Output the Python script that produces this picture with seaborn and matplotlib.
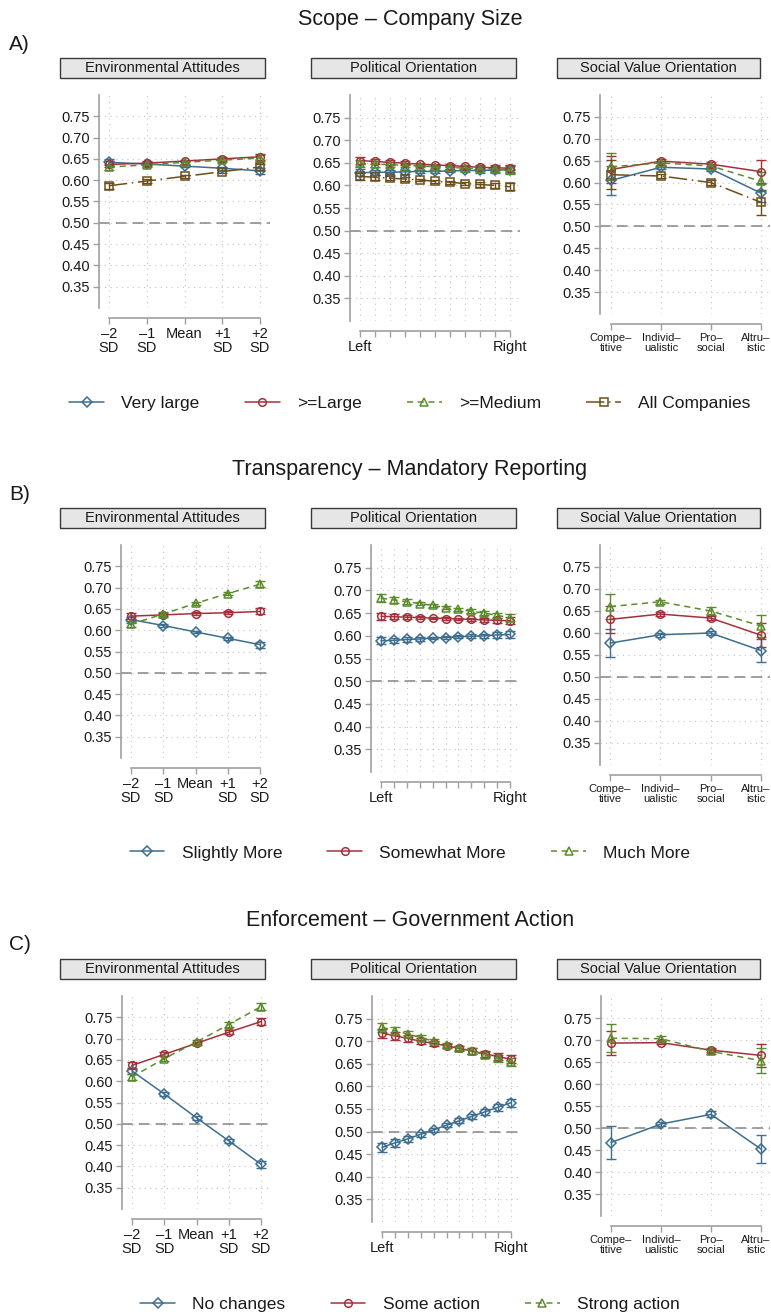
import numpy as np
import pandas as pd
import matplotlib
matplotlib.use("Agg")
import matplotlib.pyplot as plt
import matplotlib.transforms as mtransforms
import seaborn as sns
from matplotlib.lines import Line2D
from matplotlib.patches import Rectangle

sns.set_theme(style="white")
plt.rcParams['font.family'] = ['Liberation Sans', 'DejaVu Sans']

# ---------------- data ----------------
env_labels = ["–2\nSD", "–1\nSD", "Mean", "+1\nSD", "+2\nSD"]
pol_labels = ["Left", "", "", "", "", "", "", "", "", "", "Right"]
svo_labels = ["Compe–\ntitive", "Individ–\nualistic", "Pro–\nsocial", "Altru–\nistic"]
facet_titles = ["Environmental Attitudes", "Political Orientation", "Social Value Orientation"]

row_titles = ["Scope – Company Size", "Transparency – Mandatory Reporting", "Enforcement – Government Action"]
row_letters = ["A)", "B)", "C)"]

a_names = ["Very large", ">=Large", ">=Medium", "All Companies"]
b_names = ["Slightly More", "Somewhat More", "Much More"]
c_names = ["No changes", "Some action", "Strong action"]

env_err = [0.007, 0.004, 0.003, 0.004, 0.007]
pol_err = [0.008, 0.006, 0.005, 0.004, 0.003, 0.003, 0.003, 0.004, 0.005, 0.006, 0.008]

# A) Scope
a_env = [[0.642, 0.638, 0.633, 0.628, 0.622],
         [0.637, 0.640, 0.645, 0.650, 0.655],
         [0.631, 0.636, 0.642, 0.647, 0.652],
         [0.587, 0.598, 0.609, 0.620, 0.631]]
a_pol = [[0.628, 0.629, 0.629, 0.630, 0.631, 0.631, 0.632, 0.633, 0.633, 0.634, 0.635],
         [0.655, 0.653, 0.651, 0.649, 0.647, 0.645, 0.644, 0.642, 0.640, 0.639, 0.638],
         [0.649, 0.647, 0.646, 0.644, 0.643, 0.641, 0.640, 0.638, 0.637, 0.636, 0.634],
         [0.620, 0.618, 0.616, 0.614, 0.612, 0.609, 0.607, 0.604, 0.602, 0.600, 0.597]]
a_svo = [[0.605, 0.635, 0.631, 0.576],
         [0.630, 0.649, 0.642, 0.625],
         [0.636, 0.645, 0.638, 0.603],
         [0.618, 0.615, 0.600, 0.555]]
a_svo_err = [[0.033, 0.005, 0.005, 0.020],
             [0.030, 0.004, 0.004, 0.027],
             [0.031, 0.004, 0.004, 0.022],
             [0.033, 0.004, 0.005, 0.028]]

# B) Transparency
b_env = [[0.625, 0.611, 0.596, 0.581, 0.566],
         [0.633, 0.636, 0.639, 0.641, 0.644],
         [0.614, 0.638, 0.663, 0.686, 0.708]]
b_pol = [[0.589, 0.590, 0.592, 0.593, 0.595, 0.596, 0.598, 0.599, 0.600, 0.602, 0.603],
         [0.643, 0.642, 0.641, 0.640, 0.639, 0.638, 0.637, 0.636, 0.635, 0.634, 0.633],
         [0.683, 0.679, 0.675, 0.671, 0.667, 0.662, 0.658, 0.654, 0.650, 0.645, 0.640]]
b_svo = [[0.577, 0.596, 0.600, 0.560],
         [0.631, 0.643, 0.634, 0.595],
         [0.660, 0.671, 0.650, 0.616]]
b_svo_err = [[0.032, 0.005, 0.005, 0.027],
             [0.030, 0.004, 0.005, 0.027],
             [0.028, 0.005, 0.008, 0.025]]

# C) Enforcement
c_env = [[0.624, 0.570, 0.514, 0.460, 0.405],
         [0.637, 0.663, 0.689, 0.715, 0.740],
         [0.610, 0.653, 0.692, 0.733, 0.775]]
c_env_err = [0.008, 0.005, 0.004, 0.005, 0.008]
c_pol = [[0.465, 0.475, 0.484, 0.494, 0.504, 0.514, 0.524, 0.534, 0.544, 0.554, 0.564],
         [0.718, 0.712, 0.706, 0.700, 0.695, 0.690, 0.684, 0.678, 0.672, 0.666, 0.660],
         [0.731, 0.723, 0.716, 0.708, 0.700, 0.692, 0.685, 0.678, 0.670, 0.662, 0.654]]
c_pol_err = [0.010, 0.009, 0.007, 0.006, 0.005, 0.004, 0.005, 0.006, 0.007, 0.008, 0.009]
c_svo = [[0.467, 0.509, 0.531, 0.452],
         [0.693, 0.694, 0.677, 0.665],
         [0.704, 0.703, 0.674, 0.653]]
c_svo_err = [[0.037, 0.005, 0.007, 0.031],
             [0.028, 0.004, 0.005, 0.026],
             [0.032, 0.005, 0.006, 0.028]]

y_ticks = [0.35, 0.40, 0.45, 0.50, 0.55, 0.60, 0.65, 0.70, 0.75]

# ---------------- style ----------------
COLORS = ["#3d6e8f", "#a3313c", "#5b8c2c", "#6b4f1a"]
MARKERS = ["D", "o", "^", "s"]
MSIZES = [5.5, 5.5, 6.0, 5.5]
LSTYLES = ["-", "-", (0, (4, 3)), (0, (12, 3, 1, 3))]

W, H = 771, 1316
fig = plt.figure(figsize=(W / 100, H / 100), dpi=100)

row_off = [0, 450, 901]
# spine_x, first point, last point, right edge, top, bottom (px, relative to row)
geoms = [
    [(99, 109, 260, 270, 95, 308), (350, 360, 510, 520, 95, 321), (600, 611, 761, 770, 95, 314)],
    [(121, 131, 260, 270, 95, 308), (371, 381, 510, 520, 95, 322), (600, 610, 761, 770, 95, 315)],
    [(122, 132, 261, 270, 95, 308), (372, 382, 511, 520, 95, 321), (601, 611, 761, 770, 95, 315)],
]
strips = [(60, 265), (311, 516), (557, 760)]

rows = [
    (a_names, [(a_env, [env_err] * 4), (a_pol, [pol_err] * 4), (a_svo, a_svo_err)]),
    (b_names, [(b_env, [env_err] * 3), (b_pol, [pol_err] * 3), (b_svo, b_svo_err)]),
    (c_names, [(c_env, [c_env_err] * 3), (c_pol, [c_pol_err] * 3), (c_svo, c_svo_err)]),
]
xlabels_all = [env_labels, pol_labels, svo_labels]

SPINE = "#a0a0a0"
TXT = "#1a1a1a"

for r, (names, panels) in enumerate(rows):
    r0 = row_off[r]
    fig.text(410 / W, 1 - (r0 + 19) / H, row_titles[r], ha="center", va="center",
             fontsize=15.5, color=TXT)
    fig.text(9 / W, 1 - (r0 + 44) / H, row_letters[r], ha="left", va="center",
             fontsize=15, color=TXT)
    for c, (vals, errs) in enumerate(panels):
        sx, fx, lx, rx, ty, by = geoms[r][c]
        ax = fig.add_axes([sx / W, 1 - (r0 + by) / H, (rx - sx) / W, (by - ty) / H])
        labels = xlabels_all[c]
        n = len(labels)
        ppu = (lx - fx) / (n - 1)
        ax.set_xlim(-(fx - sx) / ppu, (n - 1) + (rx - lx) / ppu)
        ax.set_ylim(0.30, 0.80)
        xs = np.arange(n)
        ax.set_axisbelow(True)
        ax.grid(True, color="#c4c4c4", linestyle=(0, (1, 4)), linewidth=0.8)
        ax.axhline(0.5, color="#858585", linestyle=(0, (7, 4)), linewidth=1.1, zorder=1)
        for k, name in enumerate(names):
            col = COLORS[k]
            ax.errorbar(xs, vals[k], yerr=errs[k], fmt="none", ecolor=col,
                        elinewidth=1.0, capsize=3.5, capthick=1.0, zorder=3)
            df = pd.DataFrame({"x": xs, "y": vals[k]})
            sns.lineplot(data=df, x="x", y="y", ax=ax, color=col, marker=MARKERS[k],
                         markersize=MSIZES[k], markerfacecolor="none", markeredgecolor=col,
                         markeredgewidth=1.1, linestyle=LSTYLES[k], linewidth=1.1,
                         errorbar=None, legend=False, zorder=4)
        ax.set_xlabel("")
        ax.set_ylabel("")
        ax.set_xticks(xs)
        ax.set_xticklabels(labels)
        ax.set_yticks(y_ticks)
        ax.set_yticklabels([f"{t:.2f}" for t in y_ticks])
        for s in ["top", "right"]:
            ax.spines[s].set_visible(False)
        ax.spines["left"].set_color(SPINE)
        ax.spines["bottom"].set_color(SPINE)
        ax.spines["left"].set_linewidth(1.2)
        ax.spines["bottom"].set_linewidth(1.2)
        ax.spines["bottom"].set_position(("outward", 7.5))
        ax.spines["bottom"].set_bounds(0, n - 1)
        ax.tick_params(axis="both", which="both", direction="out", length=4.5, width=1.0,
                       color=SPINE, pad=2, bottom=True, left=True, labelcolor=TXT)
        ax.tick_params(axis="y", labelsize=10.5)
        ax.tick_params(axis="x", labelsize=(8 if c == 2 else 10.5))
        for t in ax.get_xticklabels():
            t.set_linespacing(0.92 if c == 2 else 1.0)
        if c == 2:
            last = ax.get_xticklabels()[-1]
            last.set_transform(last.get_transform() +
                               mtransforms.ScaledTranslation(-5 / 100, 0, fig.dpi_scale_trans))
        # facet strip
        x0, x1 = strips[c]
        fig.add_artist(Rectangle((x0 / W, 1 - (r0 + 78) / H), (x1 - x0) / W, 20 / H,
                                 transform=fig.transFigure, facecolor="#e6e6e6",
                                 edgecolor="#3a3a3a", linewidth=1.0))
        fig.text((x0 + x1) / 2 / W, 1 - (r0 + 68) / H, facet_titles[c], ha="center",
                 va="center", fontsize=10.5, color=TXT)

    handles = [Line2D([0], [0], color=COLORS[k], marker=MARKERS[k], markersize=MSIZES[k],
                      markerfacecolor="none", markeredgecolor=COLORS[k], markeredgewidth=1.1,
                      linestyle=LSTYLES[k], linewidth=1.1) for k in range(len(names))]
    fig.legend(handles, names, loc="center", bbox_to_anchor=(410 / W, 1 - (r0 + 403) / H),
               ncol=len(names), frameon=False, fontsize=12.5, handlelength=2.0,
               handletextpad=1.0, columnspacing=2.6, labelcolor=TXT)

fig.savefig("out.png", dpi=100, facecolor="white")
